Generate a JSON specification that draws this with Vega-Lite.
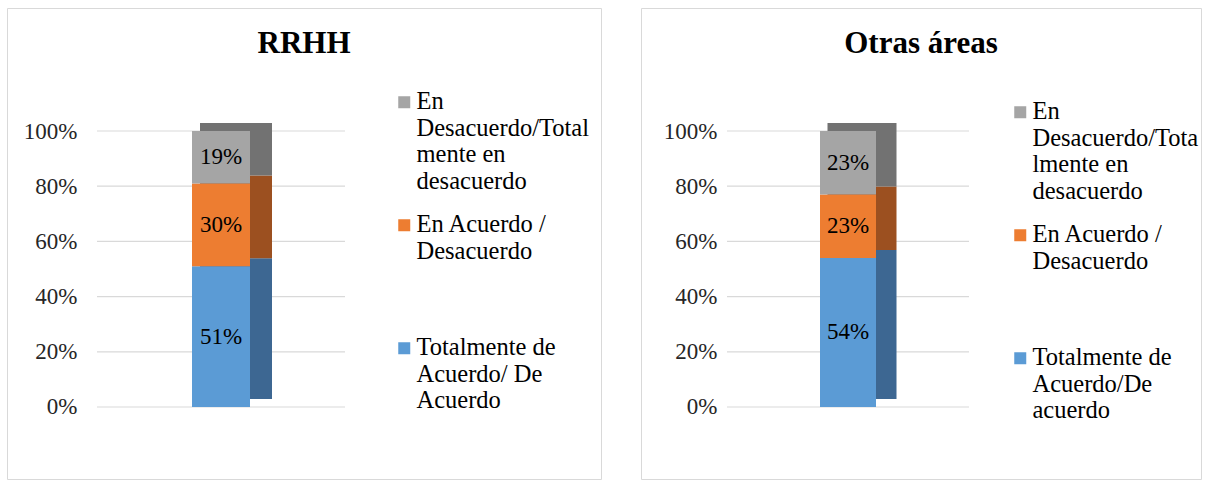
{
  "$schema": "https://vega.github.io/schema/vega-lite/v6.json",
  "background": "white",
  "padding": {"left": 6, "top": 7, "right": 3, "bottom": 2},
  "spacing": 38,
  "config": {
    "font": "Liberation Serif",
    "view": {"stroke": "#d9d9d9", "strokeWidth": 1},
    "axisY": {"domain": false, "ticks": false, "grid": false, "labelFont": "Liberation Serif", "labelFontSize": 23, "labelColor": "#262626", "offset": -76, "labelPadding": 0},
    "legend": {"orient": "none", "padding": 0, "labelFont": "Liberation Serif", "labelFontSize": 24.5, "labelColor": "#000000", "labelLimit": 400, "symbolType": "square", "symbolSize": 144, "symbolStrokeWidth": 0, "labelOffset": 0, "rowPadding": 18, "title": null},
    "title": {"font": "Liberation Serif", "fontSize": 31, "fontWeight": "bold", "color": "#000000", "anchor": "middle"}
  },
  "hconcat": [
    {
      "width": 594,
      "height": 471,
      "title": {"text": "RRHH", "offset": -52},
      "data": {"values": [
        {"area": "RRHH", "cat": "Totalmente de Acuerdo/ De Acuerdo", "orden": 1, "value": 0.51},
        {"area": "RRHH", "cat": "En Acuerdo / Desacuerdo", "orden": 2, "value": 0.30},
        {"area": "RRHH", "cat": "En Desacuerdo/Totalmente en desacuerdo", "orden": 3, "value": 0.19}
      ]},
      "layer": [
        {
          "data": {"values": [{"v": 0}, {"v": 0.2}, {"v": 0.4}, {"v": 0.6}, {"v": 0.8}, {"v": 1}]},
          "mark": {"type": "rule", "color": "#d9d9d9", "strokeWidth": 1.2},
          "encoding": {
            "y": {"field": "v", "type": "quantitative", "scale": {"domain": [-0.2609, 1.4457], "nice": false, "zero": false}, "axis": {"values": [0, 0.2, 0.4, 0.6, 0.8, 1], "format": ".0%", "title": null, "offset": -70}},
            "x": {"datum": "a", "type": "nominal", "scale": {"type": "point", "domain": ["a", "RRHH", "b"], "padding": 0, "range": [90, 338]}, "axis": null},
            "x2": {"datum": "b"}
          }
        },
        {
          "transform": [{"stack": "value", "groupby": ["area"], "sort": [{"field": "orden"}], "as": ["y0", "y1"]}],
          "mark": {"type": "bar", "width": 72, "xOffset": 15, "yOffset": -8, "y2Offset": -8},
          "encoding": {
            "x": {"field": "area", "type": "nominal", "axis": null},
            "y": {"field": "y0", "type": "quantitative", "axis": {"values": [0, 0.2, 0.4, 0.6, 0.8, 1], "format": ".0%", "title": null, "offset": -70}},
            "y2": {"field": "y1"},
            "color": {"field": "cat", "type": "nominal", "scale": {"domain": ["En Desacuerdo/Totalmente en desacuerdo", "En Acuerdo / Desacuerdo", "Totalmente de Acuerdo/ De Acuerdo"], "range": ["#727272", "#9c5020", "#3d6792"]}, "legend": null}
          }
        },
        {
          "transform": [{"stack": "value", "groupby": ["area"], "sort": [{"field": "orden"}], "as": ["y0", "y1"]}],
          "mark": {"type": "bar", "width": 58},
          "encoding": {
            "x": {"field": "area", "type": "nominal", "axis": null},
            "y": {"field": "y0", "type": "quantitative", "axis": {"values": [0, 0.2, 0.4, 0.6, 0.8, 1], "format": ".0%", "title": null, "offset": -70}},
            "y2": {"field": "y1"},
            "color": {"field": "cat", "type": "nominal", "scale": {"domain": ["En Desacuerdo/Totalmente en desacuerdo", "En Acuerdo / Desacuerdo", "Totalmente de Acuerdo/ De Acuerdo"], "range": ["#a5a5a5", "#ed7d31", "#5b9bd5"]},
              "legend": {"legendX": 385, "legendY": 82, "labelExpr": "datum.label == 'Totalmente de Acuerdo/ De Acuerdo' ? ['Totalmente de', 'Acuerdo/ De', 'Acuerdo'] : datum.label == 'En Acuerdo / Desacuerdo' ? ['En Acuerdo /', 'Desacuerdo', '', ''] : ['En', 'Desacuerdo/Total', 'mente en', 'desacuerdo']"}}
          }
        },
        {
          "transform": [
            {"stack": "value", "groupby": ["area"], "sort": [{"field": "orden"}], "as": ["y0", "y1"]},
            {"calculate": "(datum.y0 + datum.y1) / 2", "as": "mid"}
          ],
          "mark": {"type": "text", "font": "Liberation Serif", "fontSize": 23, "color": "#000000"},
          "encoding": {
            "x": {"field": "area", "type": "nominal", "axis": null},
            "y": {"field": "mid", "type": "quantitative", "axis": {"values": [0, 0.2, 0.4, 0.6, 0.8, 1], "format": ".0%", "title": null, "offset": -70}},
            "text": {"field": "value", "type": "quantitative", "format": ".0%"}
          }
        }
      ],
      "resolve": {"scale": {"color": "independent"}}
    },
    {
      "width": 560,
      "height": 471,
      "title": {"text": "Otras áreas", "offset": -52},
      "data": {"values": [
        {"area": "Otras áreas", "cat": "Totalmente de Acuerdo/De acuerdo", "orden": 1, "value": 0.54},
        {"area": "Otras áreas", "cat": "En Acuerdo / Desacuerdo", "orden": 2, "value": 0.23},
        {"area": "Otras áreas", "cat": "En Desacuerdo/Totalmente en desacuerdo", "orden": 3, "value": 0.23}
      ]},
      "layer": [
        {
          "data": {"values": [{"v": 0}, {"v": 0.2}, {"v": 0.4}, {"v": 0.6}, {"v": 0.8}, {"v": 1}]},
          "mark": {"type": "rule", "color": "#d9d9d9", "strokeWidth": 1.2},
          "encoding": {
            "y": {"field": "v", "type": "quantitative", "scale": {"domain": [-0.2609, 1.4457], "nice": false, "zero": false}, "axis": {"values": [0, 0.2, 0.4, 0.6, 0.8, 1], "format": ".0%", "title": null}},
            "x": {"datum": "a", "type": "nominal", "scale": {"type": "point", "domain": ["a", "Otras áreas", "b"], "padding": 0, "range": [86, 328]}, "axis": null},
            "x2": {"datum": "b"}
          }
        },
        {
          "transform": [{"stack": "value", "groupby": ["area"], "sort": [{"field": "orden"}], "as": ["y0", "y1"]}],
          "mark": {"type": "bar", "width": 69, "xOffset": 14, "yOffset": -8, "y2Offset": -8},
          "encoding": {
            "x": {"field": "area", "type": "nominal", "axis": null},
            "y": {"field": "y0", "type": "quantitative", "axis": {"values": [0, 0.2, 0.4, 0.6, 0.8, 1], "format": ".0%", "title": null}},
            "y2": {"field": "y1"},
            "color": {"field": "cat", "type": "nominal", "scale": {"domain": ["En Desacuerdo/Totalmente en desacuerdo", "En Acuerdo / Desacuerdo", "Totalmente de Acuerdo/De acuerdo"], "range": ["#727272", "#9c5020", "#3d6792"]}, "legend": null}
          }
        },
        {
          "transform": [{"stack": "value", "groupby": ["area"], "sort": [{"field": "orden"}], "as": ["y0", "y1"]}],
          "mark": {"type": "bar", "width": 56},
          "encoding": {
            "x": {"field": "area", "type": "nominal", "axis": null},
            "y": {"field": "y0", "type": "quantitative", "axis": {"values": [0, 0.2, 0.4, 0.6, 0.8, 1], "format": ".0%", "title": null}},
            "y2": {"field": "y1"},
            "color": {"field": "cat", "type": "nominal", "scale": {"domain": ["En Desacuerdo/Totalmente en desacuerdo", "En Acuerdo / Desacuerdo", "Totalmente de Acuerdo/De acuerdo"], "range": ["#a5a5a5", "#ed7d31", "#5b9bd5"]},
              "legend": {"legendX": 367, "legendY": 92, "labelExpr": "datum.label == 'Totalmente de Acuerdo/De acuerdo' ? ['Totalmente de', 'Acuerdo/De', 'acuerdo'] : datum.label == 'En Acuerdo / Desacuerdo' ? ['En Acuerdo /', 'Desacuerdo', '', ''] : ['En', 'Desacuerdo/Tota', 'lmente en', 'desacuerdo']"}}
          }
        },
        {
          "transform": [
            {"stack": "value", "groupby": ["area"], "sort": [{"field": "orden"}], "as": ["y0", "y1"]},
            {"calculate": "(datum.y0 + datum.y1) / 2", "as": "mid"}
          ],
          "mark": {"type": "text", "font": "Liberation Serif", "fontSize": 23, "color": "#000000"},
          "encoding": {
            "x": {"field": "area", "type": "nominal", "axis": null},
            "y": {"field": "mid", "type": "quantitative", "axis": {"values": [0, 0.2, 0.4, 0.6, 0.8, 1], "format": ".0%", "title": null}},
            "text": {"field": "value", "type": "quantitative", "format": ".0%"}
          }
        }
      ],
      "resolve": {"scale": {"color": "independent"}}
    }
  ],
  "resolve": {"scale": {"color": "independent", "x": "independent", "y": "independent"}}
}
